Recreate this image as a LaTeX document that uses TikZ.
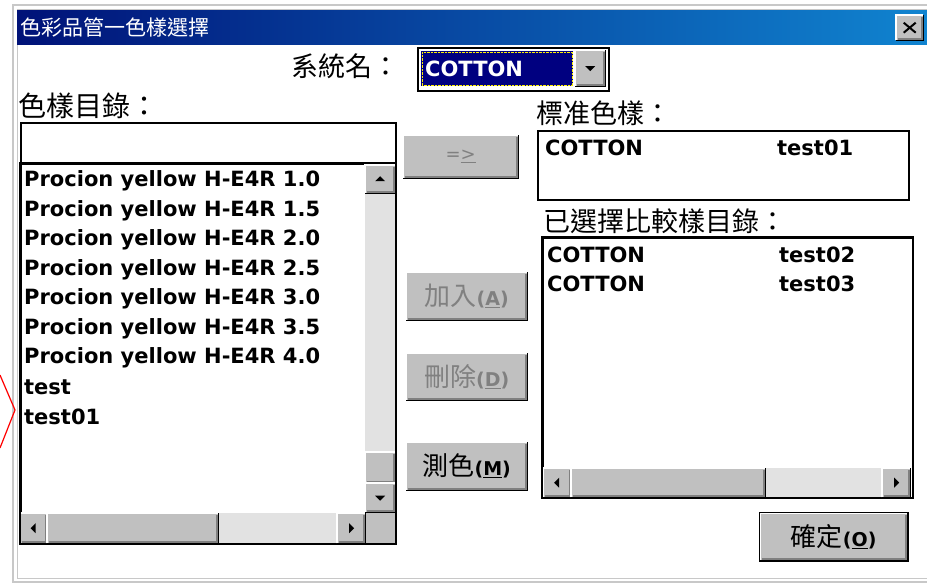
\documentclass[tikz,border=0pt]{standalone}
\usepackage{fontspec}
\setmainfont{DejaVu Sans}
\newfontfamily\cjk{Noto Sans CJK TC}
\usetikzlibrary{positioning}
\definecolor{wingray}{RGB}{192,192,192}
\definecolor{btnshadow}{RGB}{128,128,128}
\definecolor{navy}{RGB}{0,0,128}
\definecolor{titleL}{RGB}{0,18,120}
\definecolor{titleR}{RGB}{16,132,208}
\definecolor{trackgray}{RGB}{226,226,226}
\definecolor{framegray}{RGB}{200,200,200}
\newcommand\bevel[1]{%
  \draw[white, line width=1.5pt] (#1.south west) |- (#1.north east);
  \draw[black, line width=1.5pt] (#1.south west) -| (#1.north east);
  \draw[btnshadow, line width=1.5pt] ([shift={(1.5,-1.5)}]#1.south west) -| ([shift={(-1.5,1.5)}]#1.north east);
}
\newcommand\btntext[2]{{\cjk\fontsize{26}{26}\selectfont #1}{\fontsize{19}{19}\selectfont\bfseries(\underline{#2})}}
\tikzset{
  winbtn/.style={fill=wingray, inner sep=0pt, anchor=north west},
  inbox/.style={draw=black, line width=1.5pt, fill=white, inner sep=0pt, anchor=north west},
  track/.style={fill=trackgray, inner sep=0pt, anchor=north west},
  item/.style={anchor=west, inner sep=0pt, font=\fontsize{21}{21}\selectfont\bfseries},
  cjktext/.style={anchor=west, inner sep=0pt, font=\cjk\fontsize{#1}{#1}\selectfont}
}
\begin{document}
\begin{tikzpicture}[x=1pt,y=-1pt]
	\useasboundingbox[fill=white] (0,0) rectangle (927,584);
	% window frame
	\draw[framegray, line width=1.5pt] (13,5) rectangle (940,582);
	\draw[framegray, line width=1pt] (17,9) rectangle (940,578);
	\node[anchor=north west, inner sep=0pt, minimum width=912, minimum height=34, left color=titleL, right color=titleR] (titlebar) at (17,10) {};
	\node[anchor=west, text=white, inner sep=0pt, font=\cjk\fontsize{21}{21}\selectfont] (title) at (20,27) {色彩品管一色樣選擇};
	\node[winbtn, minimum width=27, minimum height=25] (closebtn) at (896,15) {};
	\bevel{closebtn}
	\draw[line width=2pt] ([shift={(-6,-5)}]closebtn.center) -- ([shift={(6,5)}]closebtn.center);
	\draw[line width=2pt] ([shift={(-6,5)}]closebtn.center) -- ([shift={(6,-5)}]closebtn.center);
	% system name
	\node[cjktext=27, anchor=east] (sysname) at (400,66) {系統名：};
	\node[inbox, minimum width=191, minimum height=43] (combo) at (417,47) {};
	\node[anchor=north west, fill=navy, inner sep=0pt, minimum width=152, minimum height=35] (combofield) at (421,51) {};
	\draw[yellow, densely dotted] ([shift={(1,1)}]combofield.north west) rectangle ([shift={(-1,-1)}]combofield.south east);
	\node[item, text=white] (combotext) at (425,69) {COTTON};
	\node[winbtn, minimum width=30, minimum height=36] (dropbtn) at (575,50) {};
	\bevel{dropbtn}
	\fill ([shift={(-5,-2)}]dropbtn.center) -- ([shift={(5,-2)}]dropbtn.center) -- ([shift={(0,3)}]dropbtn.center) -- cycle;
	% sample list
	\node[cjktext=28] (listtitle) at (18,106) {色樣目錄：};
	\node[inbox, minimum width=375, minimum height=41] (editbox) at (20,122) {};
	\node[inbox, minimum width=375, minimum height=380] (samplelist) at (20,163) {};
	\foreach \txt [count=\i from 0] in {Procion yellow H-E4R 1.0,Procion yellow H-E4R 1.5,Procion yellow H-E4R 2.0,Procion yellow H-E4R 2.5,Procion yellow H-E4R 3.0,Procion yellow H-E4R 3.5,Procion yellow H-E4R 4.0,test,test01}
		\node[item] (s\i) at (24,{181+29.5*\i}) {\txt};
	\node[track, minimum width=30, minimum height=349] (vtrack) at (365,164) {};
	\node[winbtn, minimum width=30, minimum height=28] (upbtn) at (365,165) {};
	\bevel{upbtn}
	\fill ([shift={(-5,2)}]upbtn.center) -- ([shift={(5,2)}]upbtn.center) -- ([shift={(0,-3)}]upbtn.center) -- cycle;
	\node[winbtn, minimum width=30, minimum height=31] (vthumb) at (365,452) {};
	\bevel{vthumb}
	\node[winbtn, minimum width=30, minimum height=29] (downbtn) at (365,483) {};
	\bevel{downbtn}
	\fill ([shift={(-5,-2)}]downbtn.center) -- ([shift={(5,-2)}]downbtn.center) -- ([shift={(0,3)}]downbtn.center) -- cycle;
	\node[winbtn, minimum width=30, minimum height=30] (corner) at (365,513) {};
	\node[track, minimum width=345, minimum height=30] (htrack) at (20,513) {};
	\node[winbtn, minimum width=27, minimum height=30] (leftbtn) at (20,513) {};
	\bevel{leftbtn}
	\fill ([shift={(2,-5)}]leftbtn.center) -- ([shift={(2,5)}]leftbtn.center) -- ([shift={(-3,0)}]leftbtn.center) -- cycle;
	\node[winbtn, minimum width=171, minimum height=30] (hthumb) at (47,513) {};
	\bevel{hthumb}
	\node[winbtn, minimum width=28, minimum height=30] (rightbtn) at (337,513) {};
	\bevel{rightbtn}
	\fill ([shift={(-2,-5)}]rightbtn.center) -- ([shift={(-2,5)}]rightbtn.center) -- ([shift={(3,0)}]rightbtn.center) -- cycle;
	\draw[line width=1.5pt] (samplelist.north west) rectangle (samplelist.south east);
	% middle buttons
	\node[winbtn, minimum width=115, minimum height=43, text=btnshadow, font=\fontsize{18}{18}\selectfont] (movebtn) at (403,135) {=\underline{>}};
	\bevel{movebtn}
	\node[winbtn, minimum width=121, minimum height=48, text=btnshadow] (addbtn) at (406,272) {\btntext{加入}{A}};
	\bevel{addbtn}
	\node[winbtn, minimum width=121, minimum height=47, text=btnshadow] (delbtn) at (406,353) {\btntext{刪除}{D}};
	\bevel{delbtn}
	\node[winbtn, minimum width=121, minimum height=48] (measbtn) at (406,442) {\btntext{測色}{M}};
	\bevel{measbtn}
	% standard sample
	\node[cjktext=27] (stdtitle) at (536,113) {標准色樣：};
	\node[inbox, minimum width=371, minimum height=69] (stdbox) at (537,130) {};
	\node[item] (std1) at (545,148) {COTTON};
	\node[item] (std2) at (777,148) {test01};
	% compared samples
	\node[cjktext=27] (cmptitle) at (543,221) {已選擇比較樣目錄：};
	\node[inbox, minimum width=370, minimum height=260] (cmplist) at (542,237) {};
	\node[item] (c1) at (547,255) {COTTON};
	\node[item] (c2) at (779,255) {test02};
	\node[item] (c3) at (547,284) {COTTON};
	\node[item] (c4) at (779,284) {test03};
	\node[track, minimum width=367, minimum height=29] (ctrack) at (543,468) {};
	\node[winbtn, minimum width=28, minimum height=29] (cleft) at (543,468) {};
	\bevel{cleft}
	\fill ([shift={(2,-5)}]cleft.center) -- ([shift={(2,5)}]cleft.center) -- ([shift={(-3,0)}]cleft.center) -- cycle;
	\node[winbtn, minimum width=194, minimum height=29] (cthumb) at (571,468) {};
	\bevel{cthumb}
	\node[winbtn, minimum width=28, minimum height=29] (cright) at (882,468) {};
	\bevel{cright}
	\fill ([shift={(-2,-5)}]cright.center) -- ([shift={(-2,5)}]cright.center) -- ([shift={(3,0)}]cright.center) -- cycle;
	\draw[line width=1.5pt] (cmplist.north west) rectangle (cmplist.south east);
	% ok button
	\node[winbtn, minimum width=147, minimum height=47] (okbtn) at (760,513) {\btntext{確定}{O}};
	\bevel{okbtn}
	\draw[line width=1pt] ([shift={(-1,-1)}]okbtn.north west) rectangle ([shift={(1,1)}]okbtn.south east);
	% red mark
	\coordinate (z1) at (0,375);
	\coordinate (z2) at (15,410);
	\coordinate (z3) at (0,448);
	\draw[red, line width=1.2pt] (z1) -- (z2) -- (z3);
\end{tikzpicture}
\end{document}
